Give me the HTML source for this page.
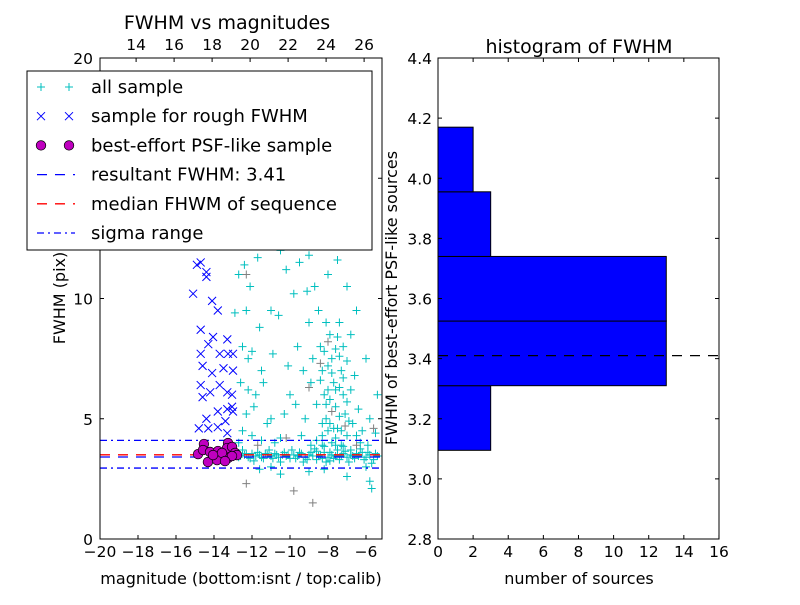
<!DOCTYPE html>
<html><head><meta charset="utf-8"><style>
body{margin:0;background:#fff}
svg{font-family:"DejaVu Sans","Liberation Sans",sans-serif}
</style></head><body>
<svg id="c" width="800" height="600" xmlns="http://www.w3.org/2000/svg">
<rect width="800" height="600" fill="#fff"/>
</svg>
<script>
const cyanPts=[[-12.6,3.45],[-12.4,3.5],[-12.2,3.4],[-12.0,3.55],[-11.8,3.45],[-11.6,3.5],[-11.4,3.35],[-11.2,3.5],[-11.0,3.45],[-10.8,3.55],[-10.6,3.4],[-10.4,3.5],[-10.2,3.45],[-10.0,3.35],[-9.8,3.5],[-9.6,3.45],[-9.4,3.55],[-9.2,3.4],[-9.0,3.5],[-8.8,3.45],[-8.6,3.3],[-8.4,3.5],[-8.2,3.6],[-8.0,3.4],[-7.8,3.5],[-7.6,3.45],[-7.4,3.3],[-7.2,3.55],[-7.0,3.4],[-6.8,3.5],[-6.6,3.35],[-6.4,3.45],[-6.2,3.6],[-6.0,3.4],[-5.8,3.5],[-5.6,3.3],[-5.4,3.45],[-12.5,3.7],[-11.9,3.25],[-11.1,3.7],[-10.5,3.2],[-9.9,3.7],[-9.3,3.2],[-8.7,3.75],[-8.1,3.2],[-7.5,3.7],[-6.9,3.2],[-6.3,3.75],[-5.7,3.15],
[-12.7,3.4],[-12.3,3.55],[-12.1,3.35],[-11.7,3.6],[-11.5,3.4],[-11.3,3.55],[-10.9,3.35],[-10.7,3.5],[-10.3,3.6],[-10.1,3.5],[-9.7,3.35],[-9.5,3.6],[-9.1,3.3],[-8.9,3.6],[-8.5,3.45],[-8.3,3.35],[-7.9,3.6],[-7.7,3.35],[-7.3,3.45],[-7.1,3.65],[-6.7,3.45],[-6.5,3.55],[-6.1,3.3],[-5.9,3.6],[-5.5,3.55],[-8.2,3.85],[-7.6,3.9],[-7.2,3.85],[-8.6,3.65],[-7.9,3.25],[-8.3,3.9],[-6.8,3.7],
[-11.6,2.9],[-10.5,2.7],[-9.0,2.8],[-8.2,2.9],[-7.0,2.6],[-5.8,2.4],[-5.7,2.1],[-11.0,3.0],[-6.0,3.0],
[-12.7,4.0],[-12.5,4.5],[-12.3,5.2],[-12.6,6.5],[-12.2,7.5],[-12.5,8.0],[-12.9,9.4],[-12.3,9.5],[-12.0,7.8],[-11.8,6.0],[-11.6,8.8],[-11.5,7.0],[-11.9,5.5],[-12.1,10.5],[-12.7,11.0],[-12.4,11.4],[-11.7,11.7],[-12.0,4.3],[-11.2,4.8],[-11.0,5.0],[-11.4,6.5],[-10.5,4.2],[-10.9,7.7],[-10.6,9.3],[-10.2,11.2],[-9.8,10.2],[-9.5,11.5],[-10.0,6.0],[-9.6,8.0],[-9.3,7.0],[-9.0,9.0],[-9.2,5.0],[-8.9,6.5],[-9.4,4.3],[-8.7,10.5],[-8.5,9.5],[-8.4,8.0],[-8.3,7.0],[-8.2,6.0],[-8.1,5.0],[-8.0,4.5],[-7.9,8.5],[-7.8,7.5],[-7.7,6.5],[-7.6,5.5],[-7.5,4.6],[-7.4,9.0],[-7.3,7.0],[-7.2,6.0],[-7.1,5.2],[-7.0,4.3],[-8.6,4.1],[-8.3,4.8],[-7.9,5.8],[-7.6,7.9],[-8.8,7.5],[-8.0,11.0],[-7.5,11.6],[-7.0,10.5],[-6.8,8.5],[-6.6,6.8],[-6.4,5.4],[-6.2,4.5],[-6.0,7.5],[-5.8,5.0],[-5.5,4.4],[-5.4,6.0],[-6.9,12.3],[-8.5,12.5],[-9.0,11.8],[-10.5,12.0],[-11.5,12.3],[-6.5,9.5],[-7.2,8.0],[-8.1,9.0],[-9.1,10.3],[-10.1,7.2],[-11.0,9.5],[-12.2,6.2],[-5.9,3.9],[-6.3,4.0],[-7.3,3.9],[-8.9,3.9],[-10.8,4.0],[-11.5,4.1],[-8.4,6.6],[-7.8,4.0],[-8.2,7.8],[-7.4,6.3],[-8.6,5.6],[-7.0,5.7],[-6.7,4.8],[-9.7,5.6],[-10.3,5.2],
[-8.0,6.2],[-7.8,6.9],[-7.6,6.2],[-7.4,5.1],[-7.7,4.6],[-8.1,5.6],[-7.5,8.4],[-7.3,4.5],[-6.9,4.9],[-6.5,4.3],[-8.3,4.3],[-7.9,4.8],[-7.6,4.2],[-7.2,6.7],[-8.0,7.2],[-7.4,7.6],[-6.8,6.2],[-7.0,7.4]];
const grayPts=[[-12.3,2.3],[-9.8,2.0],[-8.8,1.5],[-10.2,4.2],[-9.0,6.3],[-8.4,7.3],[-7.8,5.3],[-7.1,4.7],[-6.5,3.9],[-5.6,4.6],[-8.0,8.2],[-11.7,3.9],[-12.3,11.0]];
const roughPts=[[-15.1,10.2],[-14.9,11.4],[-14.7,11.5],[-14.4,11.1],[-14.4,10.9],[-14.1,9.9],[-13.8,9.5],[-14.7,8.7],[-14.05,8.4],[-13.3,8.3],[-14.3,8.1],[-14.7,7.7],[-13.7,7.7],[-13.26,7.7],[-13.0,7.7],[-14.6,7.2],[-14.1,6.9],[-13.5,7.1],[-13.0,7.0],[-14.7,6.4],[-13.7,6.4],[-14.2,6.1],[-13.3,6.1],[-14.6,5.9],[-13.05,6.0],[-13.05,5.5],[-13.3,5.4],[-13.8,5.3],[-13.0,5.3],[-14.4,5.0],[-13.4,4.9],[-14.8,4.6],[-14.3,4.6],[-13.8,4.65],[-13.3,4.4],[-14.6,12.2],[-14.3,12.6]];
const psfPts=[[-14.53,3.95],[-14.84,3.53],[-14.58,3.70],[-14.21,3.62],[-13.79,3.66],[-13.26,3.99],[-13.32,3.78],[-13.05,3.83],[-12.89,3.58],[-13.53,3.41],[-13.84,3.28],[-14.32,3.20],[-13.26,3.37],[-12.79,3.49],[-13.58,3.58],[-14.05,3.49],[-13.05,3.45],[-13.42,3.24]];
const resultFWHM=3.41, medianFWHM=3.5, sigmaLow=2.95, sigmaHigh=4.1;
const binEdges=[3.095,3.31,3.525,3.74,3.955,4.17];
const binCounts=[3,13,13,3,2];
const leftXTicks=[-20,-18,-16,-14,-12,-10,-8,-6];
const leftYTicks=[0,5,10,15,20];
const topTicks=[14,16,18,20,22,24,26];
const histXTicks=[0,2,4,6,8,10,12,14,16];
const histYTicks=[2.8,3.0,3.2,3.4,3.6,3.8,4.0,4.2,4.4];

const NS='http://www.w3.org/2000/svg', svg=document.getElementById('c');
function mk(t,a,p){const e=document.createElementNS(NS,t);for(const k in a)e.setAttribute(k,a[k]);(p||svg).appendChild(e);return e;}
const L={x0:100,x1:382,y0:58,y1:539};
const lx=v=>L.x0+(v+20)*19, ly=v=>L.y1-v*24.05, tx=v=>L.x0+(v-32.1+20)*19;
const R={x0:438,x1:719,y0:58,y1:539};
const rx=v=>R.x0+v*17.56, ry=v=>R.y1-(v-2.8)*300.6;

const clip=mk('clipPath',{id:'lc'});mk('rect',{x:L.x0,y:L.y0,width:L.x1-L.x0,height:L.y1-L.y0},clip);
const g=mk('g',{'clip-path':'url(#lc)'});

function hline(v,col,dash,name){const e=mk('line',{x1:L.x0,x2:L.x1,y1:ly(v),y2:ly(v),stroke:col,'stroke-width':1.3,'stroke-dasharray':dash},g);}
function plus(p,col,name){const x=lx(p[0]),y=ly(p[1]);const e=mk('path',{d:`M${x-4},${y}H${x+4}M${x},${y-4}V${y+4}`,stroke:col,'stroke-width':1,fill:'none'},g);}
cyanPts.forEach(p=>plus(p,'#00bfbf','all-sample-point'));
grayPts.forEach(p=>plus(p,'#808080','all-sample-point-gray'));
roughPts.forEach(p=>{const x=lx(p[0]),y=ly(p[1]);const e=mk('path',{d:`M${x-4},${y-4}L${x+4},${y+4}M${x-4},${y+4}L${x+4},${y-4}`,stroke:'#0000ff','stroke-width':1,fill:'none'},g);});
hline(sigmaHigh,'#0000ff','7,4,2,4','sigma-high-line');hline(sigmaLow,'#0000ff','7,4,2,4','sigma-low-line');
hline(medianFWHM,'#ff0000','10,8','median-fwhm-line');hline(resultFWHM,'#0000ff','10,8','resultant-fwhm-line');
psfPts.forEach(p=>{const e=mk('circle',{cx:lx(p[0]),cy:ly(p[1]),r:4.8,fill:'#bf00bf',stroke:'#000','stroke-width':0.7},g);});

function txt(x,y,s,o){const e=mk('text',Object.assign({x:x,y:y,'font-size':12,'text-anchor':'middle',fill:'#000'},o||{}));e.textContent=s;return e;}
function frame(A,name){const e=mk('rect',{x:A.x0,y:A.y0,width:A.x1-A.x0,height:A.y1-A.y0,fill:'none',stroke:'#000','stroke-width':1});}
frame(L,'left-axes-frame');
leftXTicks.forEach(v=>{const x=lx(v);mk('path',{d:`M${x},${L.y1}v-4`,stroke:'#000'});const t=txt(x,557,'\u2212'+Math.abs(v),{'font-size':15.5});});
leftYTicks.forEach(v=>{const y=ly(v);mk('path',{d:`M${L.x0},${y}h4M${L.x1},${y}h-4`,stroke:'#000'});const t=txt(93,y+6,String(v),{'font-size':15.5,'text-anchor':'end'});});
topTicks.forEach(v=>{const x=tx(v);mk('path',{d:`M${x},${L.y0}v4`,stroke:'#000'});const t=txt(x,50,String(v),{'font-size':15.5});});
let t=txt(227,29,'FWHM vs magnitudes',{'font-size':19});
t=txt(241,584,'magnitude (bottom:isnt / top:calib)',{'font-size':16});
t=txt(0,0,'FWHM (pix)',{'font-size':16,transform:'translate(65,298) rotate(-90)'});

const lg=mk('g',{});
mk('rect',{x:27,y:71,width:345,height:179,fill:'#fff',stroke:'#000','stroke-width':1},lg);
const items=['all sample','sample for rough FWHM','best-effort PSF-like sample','resultant FWHM: 3.41','median FHWM of sequence','sigma range'];
items.forEach((s,i)=>{const y=87+i*29.2;const a=41,b=69;
 if(i==0)[a,b].forEach(x=>mk('path',{d:`M${x-4},${y}H${x+4}M${x},${y-4}V${y+4}`,stroke:'#00bfbf'},lg));
 if(i==1)[a,b].forEach(x=>mk('path',{d:`M${x-4},${y-4}L${x+4},${y+4}M${x-4},${y+4}L${x+4},${y-4}`,stroke:'#0000ff'},lg));
 if(i==2)[a,b].forEach(x=>mk('circle',{cx:x,cy:y,r:4.8,fill:'#bf00bf',stroke:'#000','stroke-width':0.7},lg));
 if(i==3)mk('line',{x1:37,x2:75,y1:y,y2:y,stroke:'#0000ff','stroke-width':1.3,'stroke-dasharray':'10,8'},lg);
 if(i==4)mk('line',{x1:37,x2:75,y1:y,y2:y,stroke:'#ff0000','stroke-width':1.3,'stroke-dasharray':'10,8'},lg);
 if(i==5)mk('line',{x1:37,x2:75,y1:y,y2:y,stroke:'#0000ff','stroke-width':1.3,'stroke-dasharray':'7,4,2,4'},lg);
 const e=txt(91,y+6,s,{'font-size':18,'text-anchor':'start'});lg.appendChild(e);
 });

binCounts.forEach((c,i)=>{const y0=ry(binEdges[i+1]),y1=ry(binEdges[i]);const e=mk('rect',{x:rx(0),y:y0,width:rx(c)-rx(0),height:y1-y0,fill:'#0000ff',stroke:'#000','stroke-width':1});});
const rl=mk('line',{x1:R.x0,x2:R.x1,y1:ry(resultFWHM),y2:ry(resultFWHM),stroke:'#000','stroke-width':1.3,'stroke-dasharray':'10,8'});
frame(R,'right-axes-frame');
histXTicks.forEach(v=>{const x=rx(v);mk('path',{d:`M${x},${R.y1}v-4M${x},${R.y0}v4`,stroke:'#000'});const t=txt(x,557,String(v),{'font-size':15.5});});
histYTicks.forEach(v=>{const y=ry(v);mk('path',{d:`M${R.x0},${y}h4M${R.x1},${y}h-4`,stroke:'#000'});const t=txt(432,y+6,v.toFixed(1),{'font-size':15.5,'text-anchor':'end'});});
t=txt(579,53,'histogram of FWHM',{'font-size':19});
t=txt(579,584,'number of sources',{'font-size':16});
t=txt(0,0,'FWHM of best-effort PSF-like sources',{'font-size':16,transform:'translate(397,298) rotate(-90)'});
</script>
</body></html>
